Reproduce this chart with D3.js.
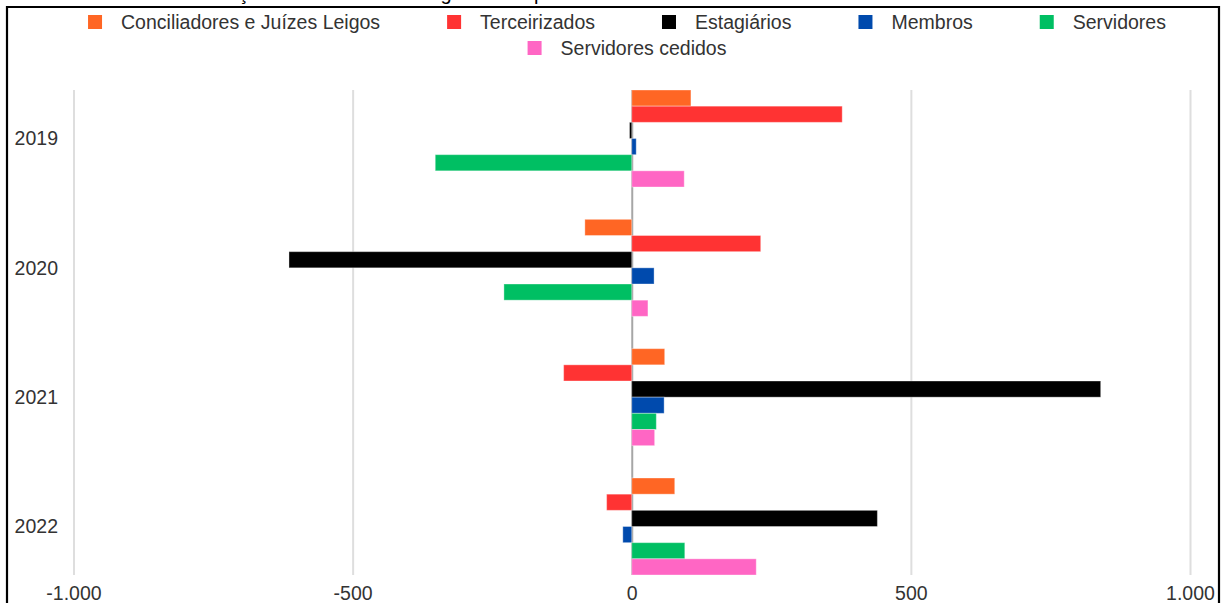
<!DOCTYPE html>
<html>
<head>
<meta charset="utf-8">
<script src="https://cdn.jsdelivr.net/npm/d3@7"></script>
<style>
  body { margin: 0; background: #fff; }
  text { font-family: "Liberation Sans", Arial, sans-serif; }
</style>
</head>
<body>
<script>
// values (difference per year)
const years = ["2019", "2020", "2021", "2022"];
const seriesNames = ["Conciliadores e Juízes Leigos", "Terceirizados", "Estagiários", "Membros", "Servidores", "Servidores cedidos"];
const seriesColors = ["#ff6624", "#ff3333", "#000000", "#004aad", "#00bf63", "#ff66c4"];
const conciliadores = [106, -84, 59, 77];
const terceirizados = [377, 231, -122, -45];
const estagiarios = [-4, -614, 840, 440];
const membros = [8, 40, 58, -16];
const servidores = [-352, -229, 44, 95];
const cedidos = [94, 29, 41, 223];
const xTicks = [-1000, -500, 0, 500, 1000];

const values = [conciliadores, terceirizados, estagiarios, membros, servidores, cedidos];
const rows = [];
years.forEach((yr, i) => {
  seriesNames.forEach((s, j) => rows.push({year: yr, series: s, value: values[j][i]}));
});

const width = 1222, height = 603;
const fontSize = 19.5;

const svg = d3.select("body").append("svg")
  .attr("width", width)
  .attr("height", height);

// title, cut off by the top edge in the source image
svg.append("text")
  .attr("x", 193)
  .attr("y", 0)
  .attr("font-size", 20)
  .attr("fill", "#000")
  .text("Variação anual do total de agentes no período");

// frame
svg.append("path")
  .attr("d", `M7,${height + 5}V7H1219V${height + 5}`)
  .attr("fill", "none")
  .attr("stroke", "#000")
  .attr("stroke-width", 2.2);

const x = d3.scaleLinear().domain([-1000, 1000]).range([73.5, 1190]);
const y = d3.scaleBand().domain(years).range([90, 575]).paddingInner(0.25).paddingOuter(0);
const ySub = d3.scaleBand().domain(seriesNames).range([0, y.bandwidth()]);
const color = d3.scaleOrdinal().domain(seriesNames).range(seriesColors);

const ptBR = d3.formatLocale({decimal: ",", thousands: ".", grouping: [3], currency: ["R$", ""], minus: "-"});
const fmt = ptBR.format(",");

// grid + x labels
const xAxis = svg.append("g")
  .attr("transform", `translate(0,${y.range()[1]})`)
  .call(d3.axisBottom(x).tickValues(xTicks).tickFormat(fmt)
    .tickSize(-(y.range()[1] - y.range()[0])).tickPadding(11));
xAxis.select(".domain").remove();
xAxis.selectAll(".tick line")
  .attr("stroke", d => d === 0 ? "#a6a6a6" : "#dedede")
  .attr("stroke-width", 2);
xAxis.selectAll(".tick text")
  .attr("font-size", fontSize)
  .attr("font-family", "Liberation Sans, Arial, sans-serif")
  .attr("fill", "#333");

// bars
svg.append("g")
  .selectAll("rect")
  .data(rows)
  .join("rect")
  .attr("x", d => x(Math.min(0, d.value)))
  .attr("y", d => y(d.year) + ySub(d.series))
  .attr("width", d => Math.abs(x(d.value) - x(0)))
  .attr("height", ySub.bandwidth())
  .attr("fill", d => color(d.series))
  .attr("stroke", "#fff")
  .attr("stroke-opacity", 0.35)
  .attr("stroke-width", 1);

// y labels
svg.append("g")
  .selectAll("text")
  .data(years)
  .join("text")
  .attr("x", 58)
  .attr("y", d => y(d) + y.bandwidth() / 2)
  .attr("dy", "0.35em")
  .attr("text-anchor", "end")
  .attr("font-size", fontSize)
  .attr("fill", "#333")
  .text(d => d);

// legend, two centred rows
const legendRows = [seriesNames.slice(0, 5), seriesNames.slice(5)];
const rowY = [22, 48];
const sw = 14, swGap = 19, itemGap = 67, legendCenter = 627;

legendRows.forEach((names, r) => {
  const g = svg.append("g");
  const items = g.selectAll("g")
    .data(names)
    .join("g");
  items.append("rect")
    .attr("width", sw)
    .attr("height", sw)
    .attr("y", -sw / 2)
    .attr("fill", d => color(d));
  items.append("text")
    .attr("x", sw + swGap)
    .attr("dy", "0.35em")
    .attr("font-size", fontSize)
    .attr("fill", "#333")
    .text(d => d);
  let offset = 0;
  const pos = [];
  items.each(function() {
    pos.push(offset);
    const w = sw + swGap + d3.select(this).select("text").node().getComputedTextLength();
    offset += w + itemGap;
  });
  const total = offset - itemGap;
  const start = legendCenter - total / 2;
  items.attr("transform", (d, i) => `translate(${start + pos[i]},${rowY[r]})`);
});
</script>
</body>
</html>
